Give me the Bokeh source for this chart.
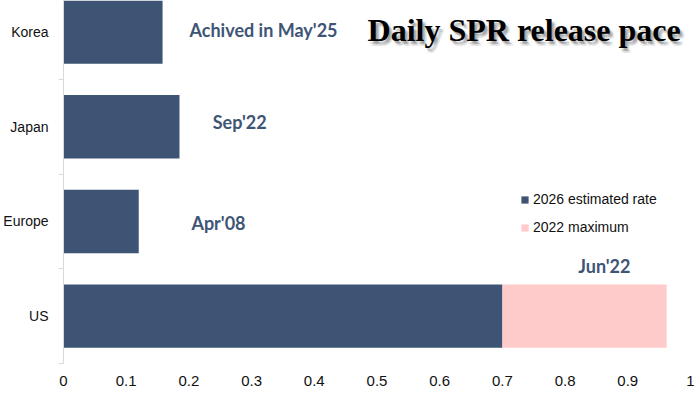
from bokeh.plotting import figure
from bokeh.models import (Range1d, FixedTicker, NumeralTickFormatter, Label,
                          Legend, LegendItem, ColumnDataSource)
from bokeh.embed import file_html
from bokeh.resources import INLINE

# ---- data ----
countries = ["US", "Europe", "Japan", "Korea"]
rate_2026 = [0.70, 0.12, 0.185, 0.158]      # 2026 estimated rate
max_2022 = [0.962, 0, 0, 0]                 # 2022 maximum (US only)
notes = ["Jun'22", "Apr'08", "Sep'22", "Achived in May'25"]
x_ticks = [0, 0.1, 0.2, 0.3, 0.4, 0.5, 0.6, 0.7, 0.8, 0.9, 1]
series_names = ["2026 estimated rate", "2022 maximum"]

NAVY = "#3d5475"
PINK = "#ffcaca"
NOTE_COL = "#3e5576"
SANS = "'Liberation Sans', Arial, sans-serif"

ypos = [i + 0.5 for i in range(len(countries))]

p = figure(width=700, height=394, title=None,
           x_range=Range1d(0, 1), y_range=Range1d(0, 3.833),
           output_backend="svg", toolbar_location=None,
           min_border_left=63, min_border_right=10,
           min_border_top=0, min_border_bottom=31)

src = ColumnDataSource(dict(y=ypos, est=rate_2026))
r1 = p.hbar(y="y", left=0, right="est", height=0.67, source=src,
            fill_color=NAVY, line_color=None)

idx = [i for i, v in enumerate(max_2022) if v > 0]
src2 = ColumnDataSource(dict(y=[ypos[i] for i in idx],
                             left=[rate_2026[i] for i in idx],
                             right=[max_2022[i] for i in idx]))
r2 = p.hbar(y="y", left="left", right="right", height=0.67, source=src2,
            fill_color=PINK, line_color=None)

# axes
p.xgrid.visible = False
p.ygrid.visible = False
p.outline_line_color = None

p.xaxis.ticker = FixedTicker(ticks=x_ticks)
p.xaxis.formatter = NumeralTickFormatter(format="0.[0]")
p.xaxis.axis_line_color = None
p.xaxis.major_tick_line_color = None
p.xaxis.minor_tick_line_color = None
p.xaxis.major_tick_out = 0
p.xaxis.major_tick_in = 0
p.xaxis.major_label_standoff = 12
p.xaxis.major_label_text_font = SANS
p.xaxis.major_label_text_font_size = "15px"
p.xaxis.major_label_text_color = "#111111"

p.yaxis.ticker = FixedTicker(ticks=ypos, minor_ticks=list(range(len(countries))))
p.yaxis.major_label_overrides = dict(zip(ypos, countries))
p.yaxis.axis_line_color = "#d9d9d9"
p.yaxis.major_tick_line_color = None
p.yaxis.major_tick_out = 0
p.yaxis.major_tick_in = 0
p.yaxis.minor_tick_line_color = "#d9d9d9"
p.yaxis.minor_tick_in = 0
p.yaxis.minor_tick_out = 5
p.yaxis.major_label_standoff = 10
p.yaxis.major_label_text_font = SANS
p.yaxis.major_label_text_font_size = "14px"
p.yaxis.major_label_text_color = "#111111"

# annotations near the bars
note_pos = [(0.821, 1.027), (0.204, 1.484), (0.238, 2.545), (0.201, 3.52)]
for t, (nx, ny) in zip(notes, note_pos):
    p.add_layout(Label(x=nx, y=ny, text=t, text_font="Lato",
                       text_font_style="bold", text_font_size="18px",
                       text_color=NOTE_COL, text_baseline="middle",
                       text_align="left"))

# title with soft shadow
for dx, dy, a in [(1, -2, 0.07), (2, -3, 0.10), (3, -3, 0.10), (4, -4, 0.07),
                  (2, -5, 0.05), (5, -2, 0.05), (3, -5, 0.05), (5, -5, 0.04)]:
    p.add_layout(Label(x=0.485, y=3.522, x_offset=dx, y_offset=dy,
                       text="Daily SPR release pace",
                       text_font="'Liberation Serif', serif",
                       text_font_style="bold", text_font_size="32px",
                       text_color="black", text_alpha=a,
                       text_baseline="alphabetic"))
p.add_layout(Label(x=0.485, y=3.522, text="Daily SPR release pace",
                   text_font="'Liberation Serif', serif",
                   text_font_style="bold", text_font_size="32px",
                   text_color="black", text_baseline="alphabetic"))

legend = Legend(items=[LegendItem(label=series_names[0], renderers=[r1]),
                       LegendItem(label=series_names[1], renderers=[r2])],
                location=(457, 126), orientation="vertical",
                border_line_color=None, background_fill_alpha=0,
                padding=0, margin=0, glyph_width=9, glyph_height=9,
                label_standoff=4, spacing=8, label_height=20,
                label_text_font=SANS, label_text_font_size="14px",
                label_text_color="#111111")
p.add_layout(legend)

open("out.html", "w").write(file_html(p, INLINE))
